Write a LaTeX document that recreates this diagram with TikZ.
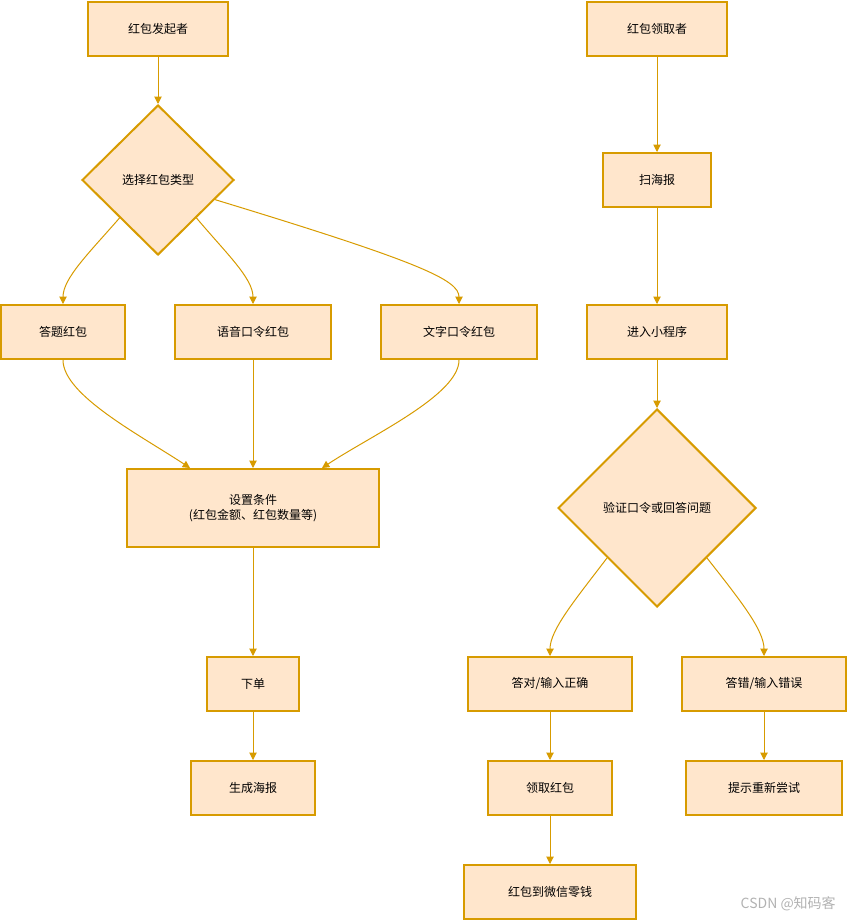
\documentclass[tikz,border=0pt]{standalone}
\usepackage{fontspec}
\setmainfont{Noto Sans CJK SC}
\usetikzlibrary{shapes.geometric,arrows.meta}
\definecolor{boxfill}{HTML}{FFE6CC}
\definecolor{boxline}{HTML}{D79B00}
\begin{document}
\begin{tikzpicture}[x=0.75pt,y=-0.75pt,
  box/.style={draw=boxline,fill=boxfill,line width=1.5pt,rectangle,minimum height=40.5pt,inner sep=0pt,font=\fontsize{9}{11}\selectfont,align=center},
  dia/.style={draw=boxline,fill=boxfill,line width=1.5pt,diamond,inner sep=0pt,font=\fontsize{9}{11}\selectfont},
  conn/.style={draw=boxline,line width=0.75pt,-{Triangle[length=5.5pt,width=5.5pt]}}]
\useasboundingbox (0,0) rectangle (847,920);
% left column
\node[box,minimum width=105pt] (fa) at (158,29) {红包发起者};
\node[dia,minimum width=114pt,minimum height=112.5pt] (xz) at (158,180) {选择红包类型};
\node[box,minimum width=93pt] (dt) at (63,332) {答题红包};
\node[box,minimum width=117pt] (yy) at (253,332) {语音口令红包};
\node[box,minimum width=117pt] (wz) at (459,332) {文字口令红包};
\node[box,minimum width=189pt,minimum height=58.5pt] (sz) at (253,508) {设置条件\\(红包金额、红包数量等)};
\node[box,minimum width=69pt] (xd) at (253,684) {下单};
\node[box,minimum width=93pt] (hb) at (253,788) {生成海报};
% right column
\node[box,minimum width=105pt] (lq) at (657,29) {红包领取者};
\node[box,minimum width=81pt] (sm) at (657,180) {扫海报};
\node[box,minimum width=105pt] (jr) at (657,332) {进入小程序};
\node[dia,minimum width=148.5pt,minimum height=148.5pt] (yz) at (657,508) {验证口令或回答问题};
\node[box,minimum width=123pt] (dd) at (550,684) {答对/输入正确};
\node[box,minimum width=123pt] (dc) at (764,684) {答错/输入错误};
\node[box,minimum width=93pt] (lh) at (550,788) {领取红包};
\node[box,minimum width=117pt] (ts) at (764,788) {提示重新尝试};
\node[box,minimum width=129pt] (lj) at (550,892) {红包到微信零钱};
\node[anchor=east,text=black!30,font=\fontsize{10.5}{12}\selectfont,inner sep=0pt] (wm) at (836,904) {CSDN @知码客};
% connectors
\draw[conn] (fa) -- (xz);
\draw[conn] (xz.south west) .. controls (90,252) and (63,278) .. (dt.north);
\draw[conn] (xz.south east) .. controls (225,252) and (253,278) .. (yy.north);
\draw[conn] (xz.-19) .. controls (420,262) and (459,280) .. (wz.north);
\draw[conn] (dt.south) .. controls (63,395) and (140,435) .. ([xshift=-47.25pt]sz.north);
\draw[conn] (yy) -- (sz);
\draw[conn] (wz.south) .. controls (459,395) and (372,435) .. ([xshift=51.75pt]sz.north);
\draw[conn] (sz) -- (xd);
\draw[conn] (xd) -- (hb);
\draw[conn] (lq) -- (sm);
\draw[conn] (sm) -- (jr);
\draw[conn] (jr) -- (yz);
\draw[conn] (yz.south west) .. controls (575,600) and (550,630) .. (dd.north);
\draw[conn] (yz.south east) .. controls (740,600) and (764,630) .. (dc.north);
\draw[conn] (dd) -- (lh);
\draw[conn] (dc) -- (ts);
\draw[conn] (lh) -- (lj);
\end{tikzpicture}
\end{document}
